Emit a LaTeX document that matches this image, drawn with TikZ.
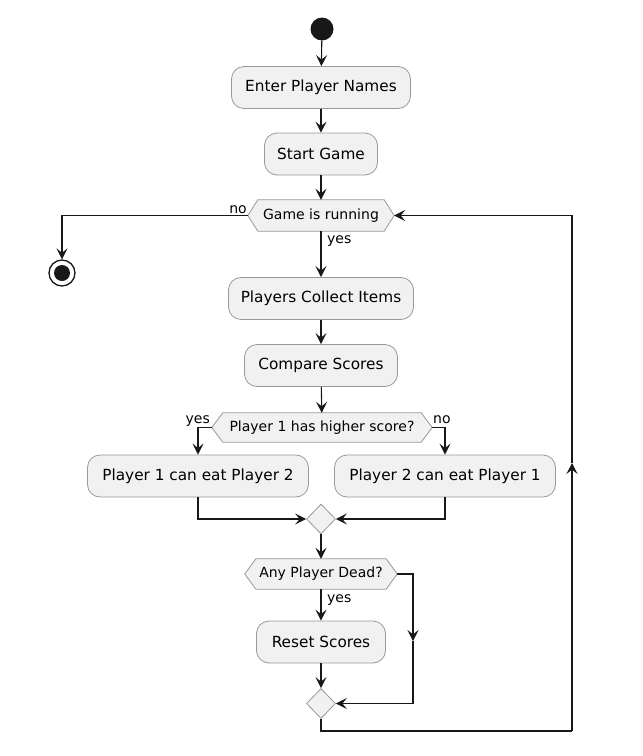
\documentclass[tikz,border=0pt]{standalone}
\usepackage{fontspec}
\setmainfont{DejaVu Sans}
\usetikzlibrary{arrows.meta,shapes.geometric,backgrounds}
\definecolor{boxfill}{HTML}{F1F1F1}
\definecolor{boxline}{HTML}{999999}
\definecolor{linecol}{HTML}{181818}
\newcommand\hexdraw[2]{%
  \begin{pgfonlayer}{background}
  \draw[draw=boxline,fill=boxfill,line width=0.8pt]
    (#1.west) -- ([xshift=#2]#1.north west) -- ([xshift=-#2]#1.north east)
    -- (#1.east) -- ([xshift=-#2]#1.south east) -- ([xshift=#2]#1.south west) -- cycle;
  \end{pgfonlayer}}
\tikzset{
  act/.style={draw=boxline, fill=boxfill, rounded corners=12.5pt, minimum height=42pt,
    inner sep=0pt, line width=0.8pt, font=\fontsize{15.3}{18}\selectfont},
  hexn/.style={inner sep=0pt, font=\fontsize{14}{16}\selectfont},
  merge/.style={diamond, draw=boxline, fill=boxfill, inner sep=0pt, line width=0.8pt,
    minimum width=29pt, minimum height=30pt},
  line/.style={draw=linecol, line width=1.1pt},
  flow/.style={line, -{Stealth[length=11pt,width=11pt,inset=4.5pt]}},
  lbl/.style={inner sep=0pt, font=\fontsize{14}{16}\selectfont}
}
\begin{document}
\begin{tikzpicture}[x=1pt,y=-1pt]
\begin{pgfonlayer}{background}
\fill[white] (0,0) rectangle (643,756);
\end{pgfonlayer}
\useasboundingbox (0,0) rectangle (643,756);

\node[circle, fill=linecol, minimum size=23pt, inner sep=0pt] (start) at (322,29) {};
\node[act, minimum width=179pt] (enter) at (321,87.5) {Enter Player Names};
\node[act, minimum width=113pt] (sg) at (321,154) {Start Game};
\node[hexn, minimum width=146pt, minimum height=31pt] (g) at (321,215.5) {Game is running};
\hexdraw{g}{10pt}
\node[circle, draw=linecol, line width=1.3pt, fill=white, minimum size=26pt, inner sep=0pt] (end) at (62,273) {};
\fill[linecol] (end.center) circle (8pt);
\node[act, minimum width=185pt] (pci) at (321,298.5) {Players Collect Items};
\node[act, minimum width=153pt] (cs) at (321,365.5) {Compare Scores};
\node[hexn, minimum width=220pt, minimum height=29pt] (p) at (322,427.5) {Player 1 has higher score?};
\hexdraw{p}{11pt}
\node[act, minimum width=221pt] (p1) at (198,476) {Player 1 can eat Player 2};
\node[act, minimum width=221pt] (p2) at (445,476) {Player 2 can eat Player 1};
\node[merge] (m1) at (321,519) {};
\node[hexn, minimum width=152pt, minimum height=30pt] (d) at (321,574) {Any Player Dead?};
\hexdraw{d}{11pt}
\node[act, minimum width=129pt] (rs) at (321,642) {Reset Scores};
\node[merge] (m2) at (321,703.5) {};

\coordinate (nomid) at (413,641);
\coordinate (lb) at (572,731);
\coordinate (lmid) at (572,463);

\draw[flow] (start) -- (enter);
\draw[flow] (enter) -- (sg);
\draw[flow] (sg) -- (g);
\draw[flow] (g.west) -| (end);
\draw[flow] (g) -- (pci);
\draw[flow] (pci) -- (cs);
\draw[flow] (cs) -- (p);
\draw[flow] (p.west) -| (p1);
\draw[flow] (p.east) -| (p2);
\draw[flow] (p1) |- (m1);
\draw[flow] (p2) |- (m1);
\draw[flow] (m1) -- (d);
\draw[flow] (d) -- (rs);
\draw[flow] (rs) -- (m2);
\draw[flow] (d.east) -| (nomid);
\draw[flow] (nomid) |- (m2);
\draw[line] (m2) |- (lb);
\draw[flow] (lb) -- (lmid);
\draw[flow] (lmid) |- (g);

\node[lbl, anchor=base east] at (247,213) {no};
\node[lbl, anchor=base west] at (327,243) {yes};
\node[lbl, anchor=base east] at (210,423) {yes};
\node[lbl, anchor=base west] at (433,423) {no};
\node[lbl, anchor=base west] at (327,602) {yes};
\end{tikzpicture}
\end{document}
